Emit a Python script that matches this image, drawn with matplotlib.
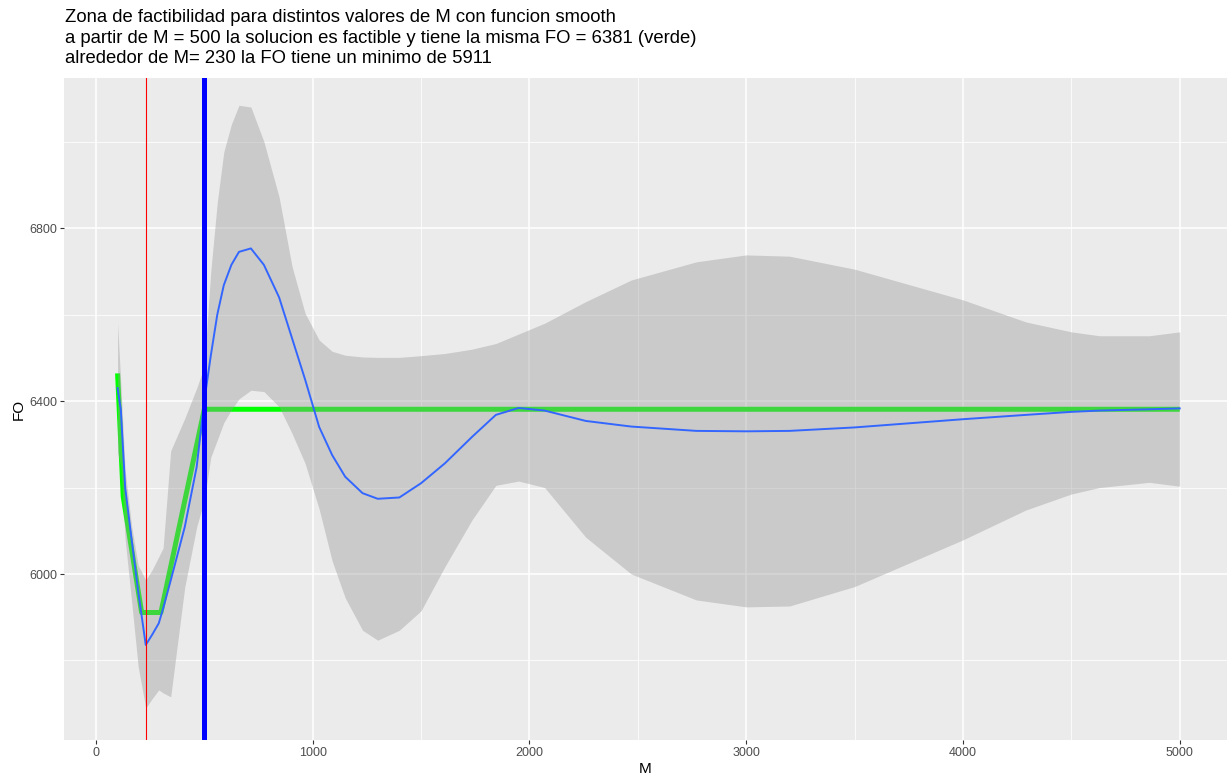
import numpy as np
import matplotlib
matplotlib.use("Agg")
import matplotlib.pyplot as plt

plt.rcParams['font.family'] = ['Liberation Sans', 'DejaVu Sans']

# green line: FO per M (feasible zone)
m_green = [100, 126, 211, 300, 500, 5000]
fo_green = [6464, 6179, 5911, 5911, 6381, 6381]

# smooth fit (loess) and its confidence band
m_smooth = [100, 115, 135, 165, 195, 230, 260, 290, 310, 345, 410, 465, 500,
            530, 560, 590, 625, 660, 715, 775, 845, 905, 965, 1030, 1090,
            1150, 1230, 1300, 1400, 1500, 1610, 1735, 1845, 1950, 2070, 2260,
            2470, 2770, 3000, 3200, 3500, 4000, 4290, 4500, 4630, 4860, 5000]
fo_fit = [6430, 6380, 6200, 6079, 5960, 5836, 5860, 5886, 5920, 5985, 6109,
          6248, 6400, 6505, 6600, 6668, 6715, 6745, 6753, 6715, 6640, 6545,
          6450, 6340, 6275, 6225, 6187, 6174, 6177, 6210, 6256, 6317, 6368,
          6384, 6378, 6354, 6341, 6331, 6330, 6331, 6339, 6358, 6368, 6375,
          6378, 6381, 6383]
fo_upper = [6580, 6440, 6240, 6110, 6020, 5986, 6010, 6040, 6060, 6285, 6360,
            6430, 6480, 6700, 6860, 6976, 7040, 7084, 7080, 7000, 6872, 6711,
            6603, 6541, 6515, 6506, 6502, 6501, 6501, 6505, 6510, 6520, 6533,
            6555, 6580, 6630, 6680, 6722, 6738, 6735, 6705, 6634, 6583, 6560,
            6551, 6551, 6560]
fo_lower = [6280, 6250, 6080, 5935, 5786, 5690, 5712, 5732, 5725, 5716, 5970,
            6109, 6171, 6270, 6310, 6350, 6380, 6405, 6425, 6422, 6387, 6325,
            6256, 6150, 6030, 5945, 5870, 5847, 5870, 5915, 6017, 6125, 6205,
            6215, 6200, 6085, 6000, 5940, 5924, 5926, 5971, 6079, 6148, 6185,
            6200, 6212, 6203]

m_min = 230
m_feasible = 500

title = ("Zona de factibilidad para distintos valores de M con funcion smooth\n"
         "a partir de M = 500 la solucion es factible y tiene la misma FO = 6381 (verde)\n"
         "alrededor de M= 230 la FO tiene un minimo de 5911")

fig = plt.figure(figsize=(12.28, 7.79), dpi=100)
ax = fig.add_axes([0.0525, 0.050, 0.9465, 0.8498])
ax.set_facecolor('#EBEBEB')

ax.plot(m_green, fo_green, color='#00FF00', lw=3.6, solid_capstyle='butt', zorder=2)
ax.fill_between(m_smooth, fo_lower, fo_upper, color='#999999', alpha=0.4, lw=0, zorder=3)
ax.plot(m_smooth, fo_fit, color='#3366FF', lw=1.4, zorder=4)
ax.axvline(m_min, color='#FF0000', lw=0.8, zorder=5)
ax.axvline(m_feasible, color='#0000FF', lw=3.6, zorder=5)

ax.set_xlim(-145, 5217)
ax.set_ylim(5616, 7147)
ax.set_xticks([0, 1000, 2000, 3000, 4000, 5000])
ax.set_xticks([500, 1500, 2500, 3500, 4500], minor=True)
ax.set_yticks([6000, 6400, 6800])
ax.set_yticks([5800, 6200, 6600, 7000], minor=True)
ax.grid(which='major', color='white', lw=1.1, zorder=0)
ax.grid(which='minor', color='white', lw=0.55, zorder=0)
ax.set_axisbelow(True)
for s in ax.spines.values():
    s.set_visible(False)
ax.tick_params(which='major', length=3, width=0.8, color='#333333',
               labelcolor='#4D4D4D', labelsize=9, pad=2)
ax.tick_params(which='minor', length=0)

ax.set_xlabel('M', fontsize=11, labelpad=2)
ax.set_ylabel('FO', fontsize=11, labelpad=3)

fig.text(65 / 1228, 1 - 9 / 779, title, ha='left', va='top',
         fontsize=13.3, linespacing=1.27)

fig.savefig('out.png', dpi=100)
